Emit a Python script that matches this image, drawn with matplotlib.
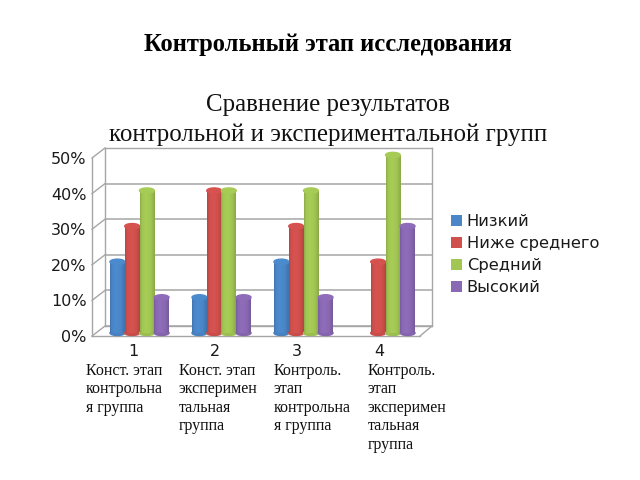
#!/usr/bin/env python3
"""Column chart with a fake 3D box: control stage of the study."""
import matplotlib
matplotlib.use("Agg")
import matplotlib.pyplot as plt
import numpy as np
from matplotlib.colors import to_rgb
from matplotlib.lines import Line2D
from matplotlib.patches import Ellipse, Patch

categories = [1, 2, 3, 4]
series_names = ["Низкий", "Ниже среднего", "Средний", "Высокий"]
low = [20, 10, 20, 0]
below_avg = [30, 40, 30, 20]
average = [40, 40, 40, 50]
high = [10, 10, 10, 30]
colors = ["#4a86c8", "#d0504d", "#a2c653", "#8a69b4"]
y_ticks = [0, 10, 20, 30, 40, 50]
captions = [
    "Конст. этап\nконтрольна\nя группа",
    "Конст. этап\nэксперимен\nтальная\nгруппа",
    "Контроль.\nэтап\nконтрольна\nя группа",
    "Контроль.\nэтап\nэксперимен\nтальная\nгруппа",
]
W, H = 640, 480
SERIF = "Liberation Serif"
GREY = "#a6a6a6"


def px_axes(fig, left, top, right, bottom):
    return fig.add_axes([left / W, 1 - bottom / H, (right - left) / W, (bottom - top) / H])


def cylinder(ax, x, width, height, color, z):
    if height <= 0:
        return
    base = np.array(to_rgb(color))
    shade = np.interp(np.linspace(0, 1, 24), [0, 0.12, 0.4, 0.75, 1], [0.88, 0.99, 1.04, 0.99, 0.86])
    grad = np.clip(base * shade[:, None], 0, 1)[None, :, :]
    ax.add_patch(Ellipse((x, 0), width, 1.4, color=base * 0.96, zorder=z, clip_on=False))
    ax.imshow(grad, extent=[x - width / 2, x + width / 2, 0, height], aspect="auto",
              interpolation="bilinear", zorder=z + 0.1, clip_on=False)
    ax.add_patch(Ellipse((x, height), width, 1.5, color=np.clip(base * 1.03, 0, 1),
                         zorder=z + 0.2, clip_on=False))


fig = plt.figure(figsize=(6.4, 4.8), dpi=100, facecolor="white")

# back wall with gridlines
wall = px_axes(fig, 105, 148, 432, 326)
wall.set_xlim(0.5, 4.5)
wall.set_ylim(0, 50)
wall.set_yticks(y_ticks)
wall.set_xticks([])
wall.tick_params(left=False, labelleft=False)
wall.grid(axis="y", color=GREY, lw=1.1)
for s in wall.spines.values():
    s.set_color(GREY)
    s.set_linewidth(1.0)

# front axis carrying the tick labels
front = px_axes(fig, 92, 158, 420, 336)
front.patch.set_alpha(0)
front.set_xlim(0.5, 4.5)
front.set_ylim(0, 50)
front.set_yticks(y_ticks)
front.set_yticklabels([f"{v}%" for v in y_ticks], fontsize=11.5)
front.set_xticks(categories)
front.set_xticklabels(categories, fontsize=11.5)
front.tick_params(axis="y", length=0, pad=4, colors="#1a1a1a")
front.tick_params(axis="x", length=0, pad=6, colors="#1a1a1a")
for name in ["top", "right"]:
    front.spines[name].set_visible(False)
for name in ["left", "bottom"]:
    front.spines[name].set_color(GREY)
    front.spines[name].set_linewidth(1.0)

# diagonal edges joining the front axis to the wall
for frac in np.array(y_ticks) / 50:
    y0 = 336 - 178 * frac
    y1 = 326 - 178 * frac
    fig.add_artist(Line2D([92 / W, 105 / W], [1 - y0 / H, 1 - y1 / H], color=GREY, lw=1.0))
fig.add_artist(Line2D([420 / W, 432 / W], [1 - 336 / H, 1 - 326 / H], color=GREY, lw=1.0))

# cylinders
bars = px_axes(fig, 98.5, 155, 426.5, 333)
bars.patch.set_alpha(0)
bars.axis("off")
bar_w = 0.18
z = 3
for i, vals in enumerate([low, below_avg, average, high]):
    for c, v in zip(categories, vals):
        cylinder(bars, c + (i - 1.5) * bar_w, bar_w, v, colors[i], z)
        z += 1
bars.set_xlim(0.5, 4.5)
bars.set_ylim(0, 50)

handles = [Patch(facecolor=c, edgecolor="none", label=n) for c, n in zip(colors, series_names)]
fig.legend(handles=handles, loc="center left", bbox_to_anchor=(436 / W, 1 - 254.5 / H),
           frameon=False, fontsize=11.7, handlelength=0.7, handleheight=0.7,
           handletextpad=0.3, labelspacing=0.43, labelcolor="#1a1a1a")

fig.text(328 / W, 1 - 44 / H, "Контрольный этап исследования", family=SERIF,
         fontsize=17.7, fontweight="bold", ha="center", va="center", color="black")
fig.text(328 / W, 1 - 120 / H, "Сравнение результатов\nконтрольной и экспериментальной групп",
         family=SERIF, fontsize=17.9, ha="center", va="center", linespacing=1.46, color="#111111")
for x, cap in zip([86, 179, 274, 368], captions):
    fig.text(x / W, 1 - 363 / H, cap, family=SERIF, fontsize=11.5, ha="left", va="top",
             linespacing=1.2, color="#111111")

fig.savefig("out.png", dpi=100)
plt.close(fig)
